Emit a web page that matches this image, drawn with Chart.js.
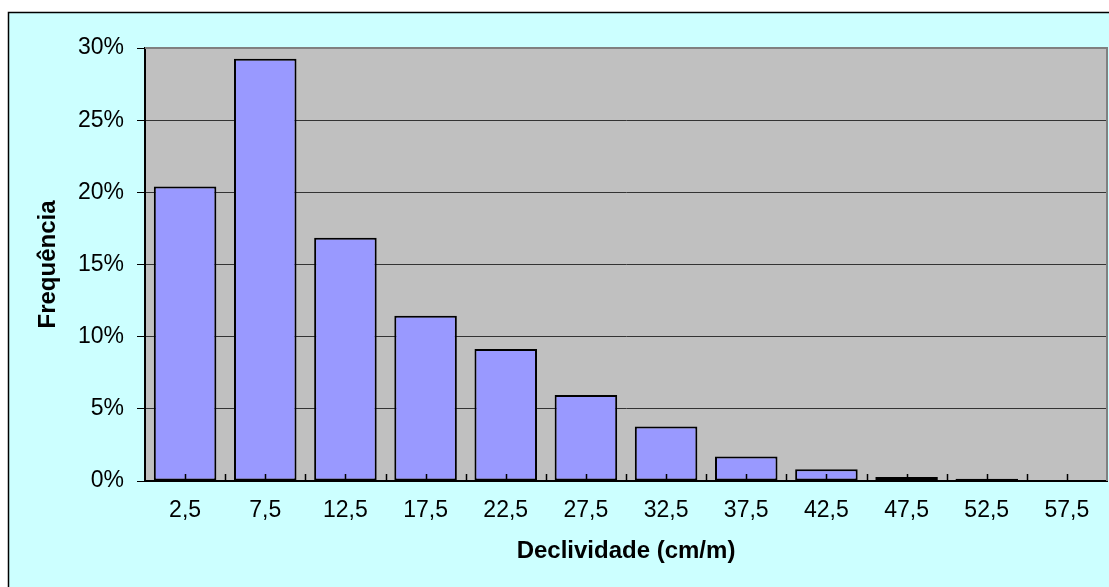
<!DOCTYPE html>
<html lang="pt">
<head>
    <meta charset="UTF-8">
    <title>Declividade</title>
    <script src="https://cdn.jsdelivr.net/npm/chart.js"></script>
    <style>
        html, body { margin: 0; padding: 0; background: #fff; }
        #wrap { width: 1109px; height: 587px; }
    </style>
</head>
<body>
    <div id="wrap"><canvas id="declChart"></canvas></div>

    <script>
        // Data
        const categories = ['2,5', '7,5', '12,5', '17,5', '22,5', '27,5', '32,5', '37,5', '42,5', '47,5', '52,5', '57,5'];
        const frequencia = [20.4, 29.25, 16.85, 11.45, 9.15, 5.95, 3.78, 1.7, 0.81, 0.28, 0.15, 0];
        const yTicks = [0, 5, 10, 15, 20, 25, 30];

        // Chart background, plot area fill and frame
        const frame = {
            id: 'frame',
            beforeDraw(chart) {
                const { ctx, chartArea: a } = chart;
                ctx.save();
                ctx.fillStyle = '#ffffff';
                ctx.fillRect(0, 0, chart.width, chart.height);
                ctx.fillStyle = '#CCFFFF';
                ctx.fillRect(8, 12, chart.width, chart.height);
                ctx.strokeStyle = '#000';
                ctx.lineWidth = 1.5;
                ctx.strokeRect(8.5, 12.5, chart.width + 10, chart.height + 10);
                ctx.fillStyle = '#C0C0C0';
                ctx.fillRect(a.left, a.top, a.right - a.left, a.bottom - a.top);
                ctx.restore();
            },
            afterDatasetsDraw(chart) {
                const { ctx, chartArea: a, scales: { x } } = chart;
                ctx.save();
                // gray top / right frame
                ctx.strokeStyle = '#808080';
                ctx.lineWidth = 2;
                ctx.beginPath();
                ctx.moveTo(a.left, a.top);
                ctx.lineTo(a.right, a.top);
                ctx.lineTo(a.right, a.bottom);
                ctx.stroke();
                // x tick marks at category centres and boundaries, pointing up
                ctx.strokeStyle = '#000';
                ctx.lineWidth = 1.5;
                ctx.beginPath();
                for (let i = 0; i < categories.length; i++) {
                    const c = Math.round(x.getPixelForValue(i)) + 0.5;
                    const b = Math.round(x.getPixelForValue(i - 0.5)) + 0.5;
                    ctx.moveTo(c, a.bottom); ctx.lineTo(c, a.bottom - 7);
                    if (i > 0) { ctx.moveTo(b, a.bottom); ctx.lineTo(b, a.bottom - 7); }
                }
                ctx.stroke();
                ctx.restore();
            }
        };

        const ctx = document.getElementById('declChart').getContext('2d');
        new Chart(ctx, {
            type: 'bar',
            data: {
                labels: categories,
                datasets: [{
                    data: frequencia,
                    backgroundColor: '#9999FF',
                    borderColor: '#000',
                    borderWidth: 2,
                    borderSkipped: false,
                    barPercentage: 0.78,
                    categoryPercentage: 1
                }]
            },
            options: {
                responsive: true,
                maintainAspectRatio: false,
                animation: false,
                layout: { padding: { top: 48, right: 2, left: 0, bottom: 0 } },
                plugins: {
                    legend: { display: false },
                    tooltip: { enabled: false }
                },
                scales: {
                    x: {
                        offset: true,
                        grid: { display: false, drawTicks: false },
                        border: { color: '#000', width: 2 },
                        ticks: {
                            color: '#000',
                            padding: 16,
                            maxRotation: 0,
                            autoSkip: false,
                            font: { family: 'Liberation Sans, Arial, sans-serif', size: 23 }
                        },
                        title: {
                            display: true,
                            text: 'Declividade (cm/m)',
                            color: '#000',
                            padding: { top: 0, bottom: 21 },
                            font: { family: 'Liberation Sans, Arial, sans-serif', size: 24, weight: 'bold' }
                        },
                        afterFit(scale) { scale.height = 106; }
                    },
                    y: {
                        min: 0,
                        max: 30,
                        afterBuildTicks(scale) { scale.ticks = yTicks.map(v => ({ value: v })); },
                        grid: {
                            color: (c) => (c.tick && c.tick.value === 30) ? 'rgba(0,0,0,0)' : '#333',
                            tickColor: '#000',
                            tickLength: 8,
                            lineWidth: 1
                        },
                        border: { color: '#000', width: 2 },
                        ticks: {
                            color: '#000',
                            padding: 13,
                            callback: (v) => v + '%',
                            font: { family: 'Liberation Sans, Arial, sans-serif', size: 23 }
                        },
                        title: {
                            display: true,
                            text: 'Frequência',
                            color: '#000',
                            padding: { top: 34, bottom: 0 },
                            font: { family: 'Liberation Sans, Arial, sans-serif', size: 24, weight: 'bold' }
                        },
                        afterFit(scale) { scale.width = 145; }
                    }
                }
            },
            plugins: [frame]
        });
    </script>
</body>
</html>
